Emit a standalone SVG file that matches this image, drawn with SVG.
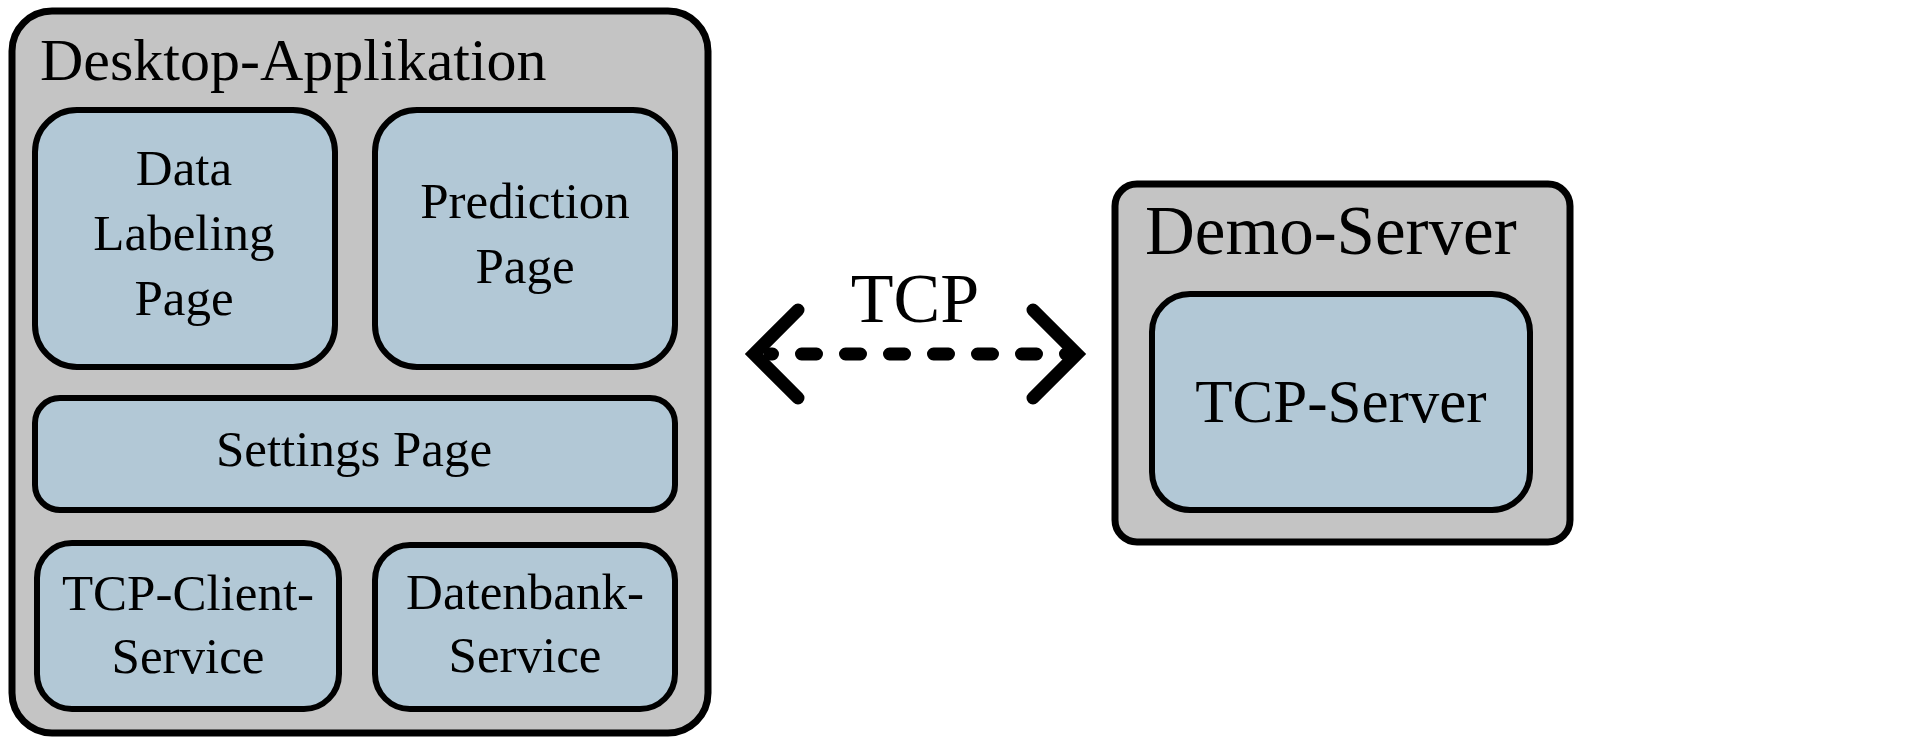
<svg xmlns="http://www.w3.org/2000/svg" width="1929" height="748" viewBox="0 0 1929 748">
<style>
.outer{fill:#c4c4c4;stroke:#000;stroke-width:7}
.inner{fill:#b2c8d6;stroke:#000;stroke-width:6}
text{font-family:"Liberation Serif","Times New Roman",serif;fill:#000}
.title{font-size:60px}
.lbl{font-size:51px;text-anchor:middle}
.conn{fill:none;stroke:#000;stroke-width:13;stroke-linecap:round}
</style>
<rect width="1929" height="748" fill="#fff"/>
<g id="desktop-app">
<rect class="outer" x="12" y="11" width="696" height="722" rx="40"/>
<text class="title" x="40" y="80">Desktop-Applikation</text>
</g>
<g id="data-labeling-page">
<rect class="inner" x="35" y="110" width="300" height="257" rx="42"/>
<text class="lbl" x="184" y="185">Data</text>
<text class="lbl" x="184" y="250">Labeling</text>
<text class="lbl" x="184" y="315">Page</text>
</g>
<g id="prediction-page">
<rect class="inner" x="375" y="110" width="300" height="257" rx="42"/>
<text class="lbl" x="525" y="218">Prediction</text>
<text class="lbl" x="525" y="283">Page</text>
</g>
<g id="settings-page">
<rect class="inner" x="35" y="398" width="640" height="112" rx="25"/>
<text class="lbl" x="354" y="466">Settings Page</text>
</g>
<g id="tcp-client-service">
<rect class="inner" x="37" y="543" width="302" height="166" rx="35"/>
<text class="lbl" x="188" y="610">TCP-Client-</text>
<text class="lbl" x="188" y="673">Service</text>
</g>
<g id="datenbank-service">
<rect class="inner" x="375" y="545" width="300" height="164" rx="35"/>
<text class="lbl" x="525" y="609">Datenbank-</text>
<text class="lbl" x="525" y="672">Service</text>
</g>
<g id="demo-server">
<rect class="outer" x="1115" y="184" width="455" height="358" rx="22"/>
<text x="1145" y="254" style="font-size:69px">Demo-Server</text>
</g>
<g id="tcp-server">
<rect class="inner" x="1152" y="294" width="378" height="216" rx="38"/>
<text class="lbl" x="1341" y="422" style="font-size:61px">TCP-Server</text>
</g>
<g id="connectors">
<line class="conn" x1="770" y1="354" x2="1068" y2="354" stroke-dasharray="15 29" stroke-dashoffset="12.5"/>
<path class="conn" d="M798,310 L754,354 L798,398" stroke-linejoin="miter"/>
<path class="conn" d="M1033,310 L1077,354 L1033,398" stroke-linejoin="miter"/>
<text x="915" y="322" style="font-size:70px;text-anchor:middle">TCP</text>
</g>
</svg>
